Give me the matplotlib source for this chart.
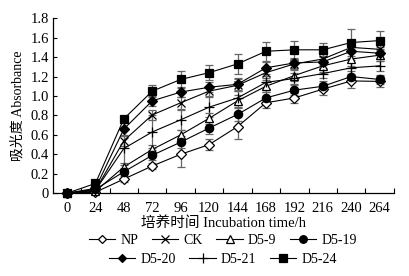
import numpy as np
import matplotlib
matplotlib.use("Agg")
import matplotlib.pyplot as plt
from matplotlib.lines import Line2D

plt.rcParams['font.family'] = ['Liberation Serif', 'Noto Sans CJK SC']
plt.rcParams['font.size'] = 10.5

# 培养时间 (h)
jam = [0, 24, 48, 72, 96, 120, 144, 168, 192, 216, 240, 264]
label_seri = ["NP", "CK", "D5-9", "D5-19", "D5-20", "D5-21", "D5-24"]

np_val = [0, 0.01, 0.145, 0.28, 0.40, 0.50, 0.685, 0.93, 0.98, 1.07, 1.155, 1.15]
ck_val = [0, 0.03, 0.54, 0.805, 0.93, 1.05, 1.11, 1.24, 1.33, 1.38, 1.50, 1.48]
d5_9 = [0, 0.02, 0.27, 0.45, 0.60, 0.77, 0.95, 1.10, 1.21, 1.31, 1.38, 1.42]
d5_19 = [0, 0.04, 0.22, 0.39, 0.525, 0.67, 0.81, 0.98, 1.06, 1.10, 1.20, 1.17]
d5_20 = [0, 0.05, 0.66, 0.95, 1.04, 1.09, 1.12, 1.29, 1.34, 1.35, 1.46, 1.44]
d5_21 = [0, 0.03, 0.46, 0.63, 0.755, 0.885, 0.98, 1.14, 1.18, 1.23, 1.29, 1.31]
d5_24 = [0, 0.10, 0.765, 1.05, 1.17, 1.24, 1.33, 1.46, 1.475, 1.475, 1.55, 1.57]

# simpangan (error bar)
np_err = [0, 0.01, 0.03, 0.03, 0.13, 0.06, 0.13, 0.05, 0.05, 0.06, 0.07, 0.06]
ck_err = [0, 0.01, 0.05, 0.05, 0.06, 0.05, 0.06, 0.06, 0.05, 0.06, 0.06, 0.06]
d5_9_err = [0, 0.01, 0.04, 0.05, 0.05, 0.06, 0.06, 0.06, 0.06, 0.06, 0.07, 0.06]
d5_19_err = [0, 0.02, 0.07, 0.05, 0.06, 0.06, 0.07, 0.06, 0.05, 0.05, 0.06, 0.05]
d5_20_err = [0, 0.02, 0.06, 0.05, 0.05, 0.05, 0.06, 0.06, 0.05, 0.06, 0.07, 0.06]
d5_21_err = [0, 0.02, 0.20, 0.17, 0.10, 0.10, 0.07, 0.07, 0.06, 0.05, 0.08, 0.05]
d5_24_err = [0, 0.02, 0.03, 0.06, 0.09, 0.08, 0.10, 0.10, 0.09, 0.07, 0.14, 0.10]

data = [np_val, ck_val, d5_9, d5_19, d5_20, d5_21, d5_24]
galat = [np_err, ck_err, d5_9_err, d5_19_err, d5_20_err, d5_21_err, d5_24_err]
gaya = [('D', 'white', 5), ('x', 'black', 6), ('^', 'white', 6),
        ('o', 'black', 6), ('D', 'black', 5), ('+', 'black', 7.5), ('s', 'black', 6)]

fig = plt.figure(figsize=(4.09, 2.76), dpi=100)
ax = fig.add_axes([0.129, 0.30, 0.834, 0.634])

for nilai, err in zip(data, galat):
    ax.errorbar(jam, nilai, yerr=err, fmt='none', ecolor='0.4', elinewidth=0.9,
                capsize=3, capthick=0.9, clip_on=False)
for nilai, (mk, fc, ms) in zip(data, gaya):
    ax.plot(jam, nilai, color='black', lw=0.8, marker=mk, markersize=ms,
            markerfacecolor=fc, markeredgecolor='black', markeredgewidth=0.9,
            clip_on=False, zorder=3)

ax.set_xlim(-12, 276)
ax.set_ylim(0, 1.8)
ax.set_xticks(jam)
ax.set_xticks(np.arange(12, 277, 24), minor=True)
ax.set_yticks(np.arange(0, 1.81, 0.2))
ax.set_yticklabels(["0"] + ["%.1f" % v for v in np.arange(0.2, 1.81, 0.2)])
ax.tick_params(axis='x', which='major', length=0, pad=6)
ax.tick_params(axis='x', which='minor', direction='in', length=3.5, width=0.8)
ax.tick_params(axis='y', direction='in', length=3, width=0.8, pad=3)
for s in ['top', 'right']:
    ax.spines[s].set_visible(False)
for s in ['left', 'bottom']:
    ax.spines[s].set_linewidth(0.9)

ax.set_xlabel("培养时间 Incubation time/h", labelpad=1)
ax.set_ylabel("吸光度 Absorbance", labelpad=4, fontsize=10)

handles = [Line2D([], [], color='black', lw=0.8, marker=mk, markersize=ms - 0.5,
                  markerfacecolor=fc, markeredgecolor='black', markeredgewidth=0.9)
           for (mk, fc, ms) in gaya]
fig.legend(handles[:4], label_seri[:4], loc='center', ncol=4, fontsize=10,
           bbox_to_anchor=(0.545, 0.128), frameon=False, handlelength=1.9,
           columnspacing=1.0, handletextpad=0.35, borderpad=0)
fig.legend(handles[4:], label_seri[4:], loc='center', ncol=3, fontsize=10,
           bbox_to_anchor=(0.545, 0.06), frameon=False, handlelength=1.9,
           columnspacing=1.0, handletextpad=0.35, borderpad=0)

fig.savefig("out.png", dpi=100)
